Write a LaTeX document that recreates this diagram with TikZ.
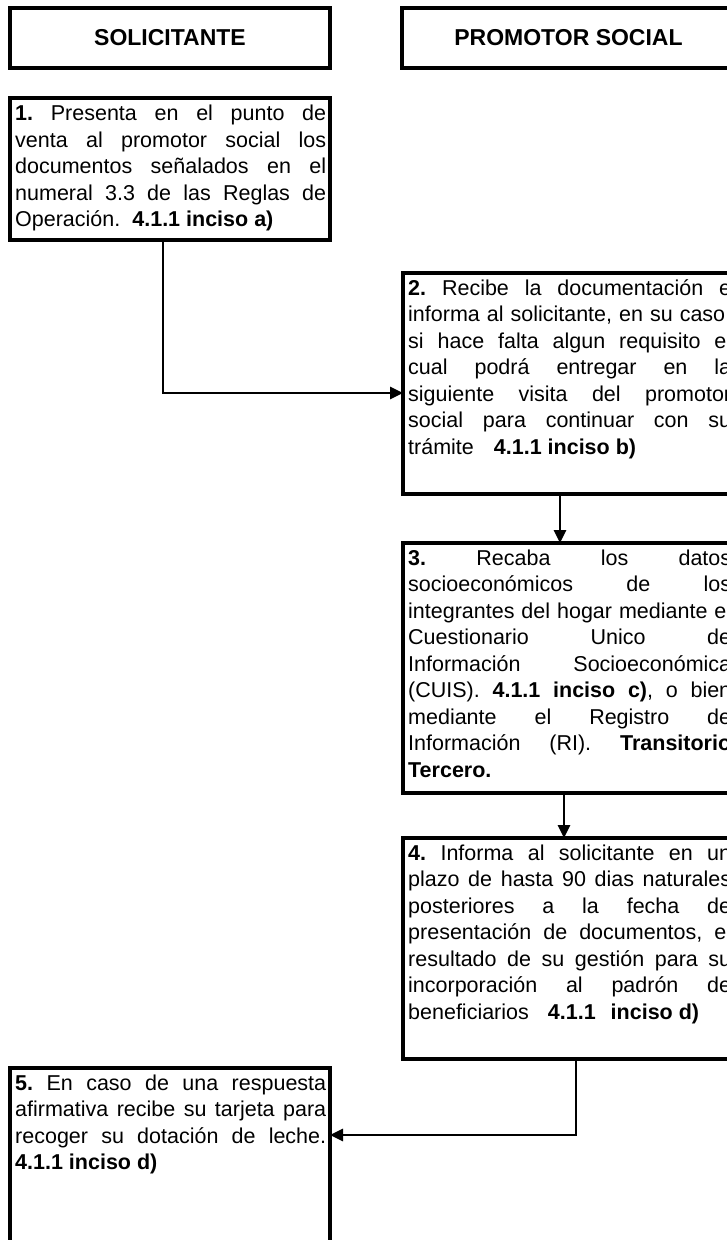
\documentclass[tikz,border=0pt]{standalone}
\usepackage{fontspec}
\setmainfont{Liberation Sans}
\usetikzlibrary{arrows.meta,calc}
\frenchspacing
\newcommand{\JLl}[1]{\makebox[311pt][s]{\strut#1}}
\newcommand{\JLr}[1]{\makebox[323pt][s]{\strut#1}}
\tikzset{
  frame/.style={draw=black, line width=4pt, fill=white, inner sep=0pt, outer sep=0pt, anchor=north west},
  head/.style={font=\fontsize{23}{27}\selectfont\bfseries},
  txt/.style={anchor=north west, inner sep=0pt, align=left, font=\fontsize{21.5}{26.5}\selectfont},
  conn/.style={draw=black, line width=2.8pt, -{Triangle[length=13pt,width=12pt]}},
}
\begin{document}
\begin{tikzpicture}[x=1pt,y=-1pt]
\useasboundingbox (0,0) rectangle (727,1240);
\clip (0,0) rectangle (727,1240);
\fill[white] (0,0) rectangle (727,1240);

% headers
\node[frame, head, minimum width=320pt, minimum height=60pt] (h1) at (10,8) {SOLICITANTE};
\node[frame, head, minimum width=333pt, minimum height=60pt] (h2) at (402,8) {PROMOTOR SOCIAL};

% boxes
\node[frame, minimum width=320pt, minimum height=142pt] (b1) at (10,98) {};
\node[frame, minimum width=333pt, minimum height=221pt] (b2) at (403,273) {};
\node[frame, minimum width=333pt, minimum height=250pt] (b3) at (403,543) {};
\node[frame, minimum width=333pt, minimum height=221pt] (b4) at (403,838) {};
\node[frame, minimum width=320pt, minimum height=220pt] (b5) at (10,1068) {};

% texts
\node[txt] (t1) at ($(b1.north west)+(5,4)$) {%
\JLl{\textbf{1.} Presenta en el punto de}\\
\JLl{venta al promotor social los}\\
\JLl{documentos señalados en el}\\
\JLl{numeral 3.3 de las Reglas de}\\
\strut Operación.\hspace{12pt}\textbf{4.1.1 inciso a)}};

\node[txt] (t2) at ($(b2.north west)+(5,3.5)$) {%
\JLr{\textbf{2.} Recibe la documentación e}\\
\JLr{informa al solicitante, en su caso,}\\
\JLr{si hace falta algun requisito el}\\
\JLr{cual podrá entregar en la}\\
\JLr{siguiente visita del promotor}\\
\JLr{social para continuar con su}\\
\strut trámite\hspace{20pt}\textbf{4.1.1 inciso b)}};

\node[txt] (t3) at ($(b3.north west)+(5,3.5)$) {%
\JLr{\textbf{3.} Recaba los datos}\\
\JLr{socioeconómicos de los}\\
\JLr{integrantes del hogar mediante el}\\
\JLr{Cuestionario Unico de}\\
\JLr{Información Socioeconómica}\\
\JLr{(CUIS). \textbf{4.1.1 inciso c)}, o bien}\\
\JLr{mediante el Registro de}\\
\JLr{Información (RI). \textbf{Transitorio}}\\
\strut\textbf{Tercero.}};

\node[txt] (t4) at ($(b4.north west)+(5,3.5)$) {%
\JLr{\textbf{4.} Informa al solicitante en un}\\
\JLr{plazo de hasta 90 dias naturales}\\
\JLr{posteriores a la fecha de}\\
\JLr{presentación de documentos, el}\\
\JLr{resultado de su gestión para su}\\
\JLr{incorporación al padrón de}\\
\strut beneficiarios\hspace{19pt}\textbf{4.1.1\hspace{15pt}inciso d)}};

\node[txt] (t5) at ($(b5.north west)+(5,3.5)$) {%
\JLl{\textbf{5.} En caso de una respuesta}\\
\JLl{afirmativa recibe su tarjeta para}\\
\JLl{recoger su dotación de leche.}\\
\strut\textbf{4.1.1 inciso d)}};

% connectors
\coordinate (k1) at (163,393);
\coordinate (k2) at (560,0);
\coordinate (k3) at (564,0);
\coordinate (k4) at (576,1135);
\draw[conn] (b1.south -| k1) |- (b2.west |- k1);
\draw[conn] (b2.south -| k2) -- (b3.north -| k2);
\draw[conn] (b3.south -| k3) -- (b4.north -| k3);
\draw[conn] (b4.south -| k4) |- (b5.east |- k4);
\end{tikzpicture}
\end{document}
